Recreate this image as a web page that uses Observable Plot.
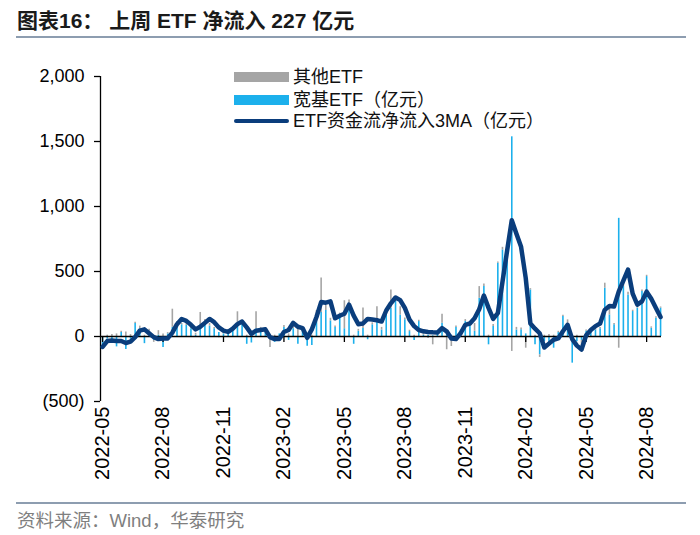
<!DOCTYPE html>
<html>
<head>
<meta charset="utf-8">
<script src="https://cdn.jsdelivr.net/npm/d3@7"></script>
<script src="https://cdn.jsdelivr.net/npm/@observablehq/plot@0.6"></script>
<style>
  html, body { margin: 0; padding: 0; background: #fff; }
  body { width: 700px; height: 535px; position: relative; overflow: hidden;
         font-family: "Liberation Sans", Arial, "Noto Sans CJK SC", sans-serif; }
  #title { position: absolute; left: 17px; top: 4px; font-size: 21px; font-weight: bold; color: #1a1a1a;
           font-family: "Liberation Sans", Arial, "Noto Sans CJK SC", sans-serif; white-space: nowrap; }
  .hr { position: absolute; left: 16px; width: 670px; height: 2px; background: #8d9db0; }
  #chart { position: absolute; left: 0; top: 40px; }
  #source { position: absolute; left: 17px; top: 506px; font-size: 18.5px; color: #7f7f7f; white-space: nowrap; }
  .leg { position: absolute; font-size: 18px; color: #111; white-space: nowrap; line-height: 20px; }
  .sw { position: absolute; }
</style>
</head>
<body>
<div id="title">图表16：&nbsp;上周 ETF 净流入 227 亿元</div>
<div class="hr" style="top:36px"></div>
<div id="chart"></div>
<div class="hr" style="top:502px"></div>
<div id="source">资料来源：Wind，华泰研究</div>

<div class="sw" style="left:234px;top:72px;width:55px;height:10px;background:#a5a5a5"></div>
<div class="leg" style="left:293px;top:67px">其他ETF</div>
<div class="sw" style="left:234px;top:95px;width:55px;height:10px;background:#1cb0ec"></div>
<div class="leg" style="left:293px;top:90px">宽基ETF（亿元）</div>
<div class="sw" style="left:234px;top:119px;width:55px;height:4px;border-radius:2px;background:#0a3d7c"></div>
<div class="leg" style="left:293px;top:111px">ETF资金流净流入3MA（亿元）</div>

<script>
// Weekly net inflows (亿元), 2022-05 → 2024-08 (121 weeks)
const kuanji = [
  -70, -20, -45, -80, 30, -100, -20, 100, 60, -55,
  40, -30, 10, -85, 20, 70, 95, 90, 85, 60,
  10, 90, 115, 80, 60, 30, 20, 40, 50, 80,
  115, -60, -50, 60, 60, 40, 10, -45, 20, 70,
  -30, 60, -60, 40, -75, -70, 115, 185, 200, 120,
  70, 160, 60, 220, -60, 40, 62, -25, 90, 128,
  50, 180, 218, 270, 166, 128, 38, -30, 115, 10,
  10, 5, 20, 102, 10, 10, 70, 40, 115, 77,
  40, 294, 384, -64, 77, 563, 666, 576, 1536, 50,
  51, 20, 358, -64, -141, -40, -60, -90, 30, 154,
  90, -205, -40, -30, 40, 30, 50, 60, 371, 166,
  90, 909, 384, 320, 192, 218, 346, 461, 64, 141,
  218
];
const other = [
  -10, 10, 15, 20, 10, 35, 15, 10, 20, 10,
  15, -15, 35, 20, 10, 140, 20, 10, 15, 10,
  15, 95, 15, 20, 10, -10, 15, 10, 20, 110,
  10, 10, 15, 130, 10, 15, -85, 10, -20, 15,
  20, 50, 80, 20, 15, 10, 85, 265, 40, 20,
  10, 20, 215, 60, 10, 15, 158, 10, 15, 100,
  20, 20, 140, 15, 62, 15, 10, 10, 10, 15,
  -15, -64, 10, 69, -102, -77, 10, 10, 15, 10,
  60, 90, 20, 10, 15, 10, 20, 15, -115, 20,
  15, -90, 10, 10, -20, 10, 15, 10, 10, 10,
  38, 10, 10, -40, 10, 20, 15, 10, 39, 70,
  10, -90, 15, 20, 10, 15, 12, 10, 10, 10,
  9
];
const ma3 = [
  -80, -35, -30, -35, -35, -50, -40, -5, 45, 55,
  25, -5, -20, -15, -15, 30, 95, 135, 120, 90,
  55, 75, 105, 135, 110, 70, 45, 35, 60, 95,
  115, 70, 20, 45, 50, 55, -5, -20, -20, 35,
  50, 105, 75, 65, -10, 55, 150, 265, 260, 270,
  140, 160, 175, 245, 160, 95, 100, 135, 130, 125,
  115, 200, 255, 300, 280, 220, 130, 80, 50, 40,
  35, 32, 30, 65, 40, -15, -20, 25, 90, 100,
  140, 210, 315, 220, 135, 180, 420, 660, 895, 790,
  690, 450, 100, 60, 25, -85, -55, -25, -15, 40,
  90, -20, -70, -100, 10, 50, 80, 100, 205, 235,
  230, 345, 430, 515, 330, 245, 270, 345, 290, 220,
  150
];
const tickWeeks = [0, 13, 26, 39, 52, 65, 78, 91, 104, 117];
const tickLabels = ["2022-05", "2022-08", "2022-11", "2023-02", "2023-05",
                    "2023-08", "2023-11", "2024-02", "2024-05", "2024-08"];
const yTicks = [-500, 0, 500, 1000, 1500, 2000];
const seriesNames = ["宽基ETF（亿元）", "其他ETF"];
const seriesColors = ["#1cb0ec", "#a5a5a5"];

const weeks = d3.range(kuanji.length);
const bars = weeks.flatMap(i => [
  {i, type: seriesNames[0], v: kuanji[i]},
  {i, type: seriesNames[1], v: other[i]}
]);
const fmtY = d => d < 0 ? `(${d3.format(",")(-d)})` : d3.format(",")(d);

const chart = Plot.plot({
  width: 700,
  height: 462,
  marginTop: 36,
  marginBottom: 101,
  marginLeft: 100,
  marginRight: 39,
  x: {domain: [-0.45, 120.2], axis: null},
  y: {domain: [-500, 2000], axis: null},
  color: {domain: seriesNames, range: seriesColors},
  style: {fontFamily: '"Liberation Sans", Arial, sans-serif', color: "#000", background: "transparent"},
  marks: [
    Plot.ruleX(bars, Plot.stackY({x: "i", y: "v", stroke: "type", strokeWidth: 1.6})),
    Plot.ruleY([0], {stroke: "#000", strokeWidth: 1.3}),
    Plot.ruleX(tickWeeks, {x: d => d, y1: 0, y2: 0, insetBottom: -6, stroke: "#000", strokeWidth: 1.3}),
    Plot.ruleX([-0.45], {y1: -500, y2: 2000, stroke: "#000", strokeWidth: 1.3}),
    Plot.line(weeks, {x: d => d, y: d => ma3[d], stroke: "#0a3d7c", strokeWidth: 4.5,
                      strokeLinejoin: "round", strokeLinecap: "round"}),
    Plot.axisY({ticks: yTicks, tickFormat: fmtY, tickSize: 6, tickPadding: 10, fontSize: 18,
                strokeWidth: 1.3, label: null}),
    Plot.axisX({ticks: tickWeeks, tickFormat: d => tickLabels[tickWeeks.indexOf(d)],
                tickRotate: -90, tickSize: 0, tickPadding: 5, fontSize: 20, label: null})
  ]
});
document.getElementById("chart").appendChild(chart);
</script>
</body>
</html>
